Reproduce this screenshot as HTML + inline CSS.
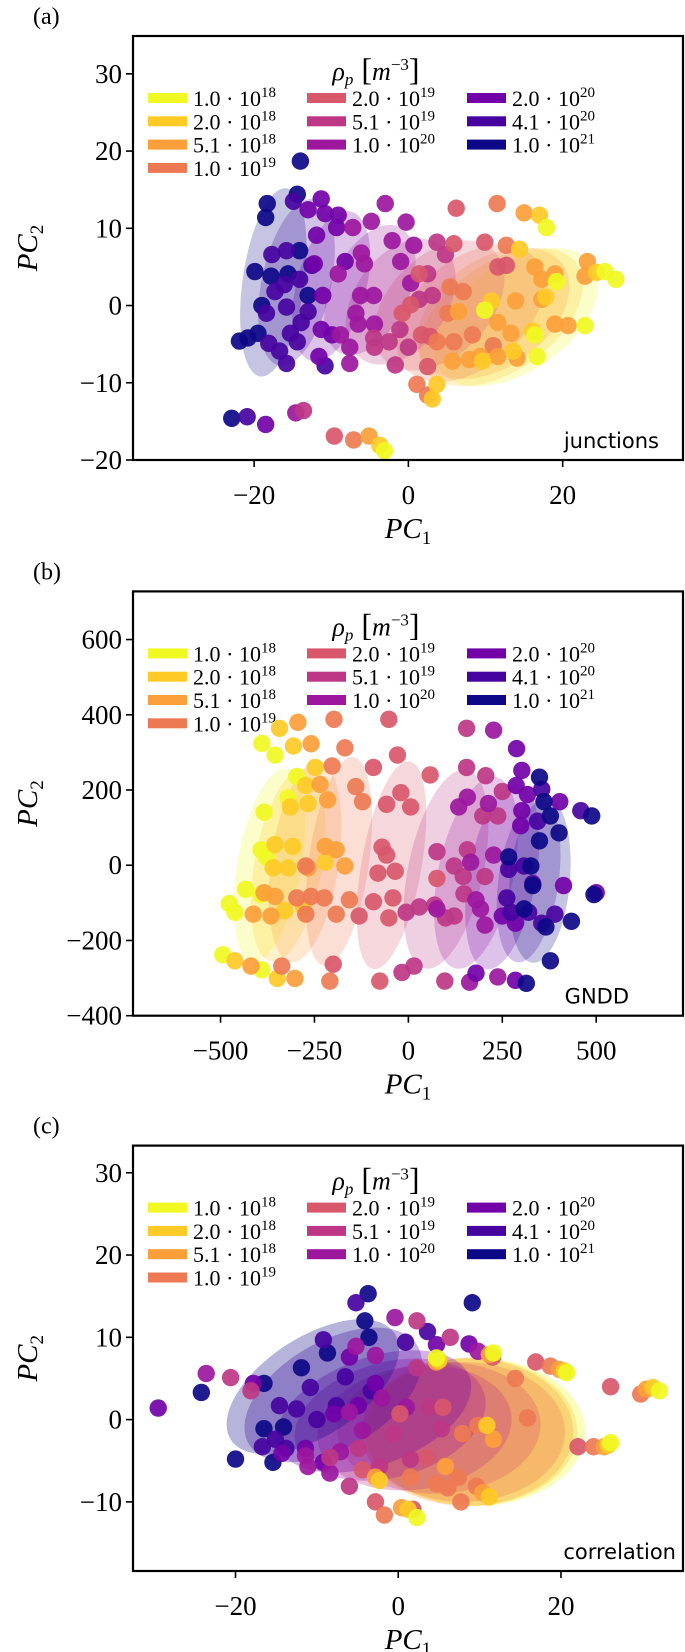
<!DOCTYPE html>
<html><head><meta charset="utf-8"><style>
html,body{margin:0;padding:0;background:#fff}
svg{display:block}
text{font-family:"Liberation Serif","DejaVu Serif",serif;fill:#000}
.ann{font-family:"DejaVu Sans","Liberation Sans",sans-serif}
</style></head><body>
<svg id="fig" width="685" height="1652" viewBox="0 0 685 1652" xmlns="http://www.w3.org/2000/svg"></svg>
<script>
// ---- shared data ----
const catLabels = [["1.0","18"],["2.0","18"],["5.1","18"],["1.0","19"],["2.0","19"],["5.1","19"],["1.0","20"],["2.0","20"],["4.1","20"],["1.0","21"]];
const catColors = ["#f0f921","#fdca26","#fb9f3a","#ed7953","#d8576b","#bd3786","#9c179e","#7201a8","#46039f","#0d0887"];

// ---- panel (a) junctions ----
const aX = [-14.0,-18.3,-18.5,-14.4,-19.9,-17.8,-21.9,-22.9,-14.1,-13.0,-15.6,-19,-20.8,-19.5,
 -14.9,-20.9,-17.7,-15.8,-17.3,-16.1,-18.4,-15.8,-18.1,-16.7,-15.8,-15.3,-13.9,-14.4,-14.1,-12.5,-10.8,-13.0,
 -11.3,-10.8,-18.5,-11.9,-12.2,-11.1,-11.3,-9.1,-9.3,-9.9,-11.6,-8.2,-13,
 -7.2,-4.8,-3.0,-6.1,-5.7,-9.1,-6.2,-6.8,-4.5,-7.6,-7.6,-8.8,-6.5,-4.4,-14.6,-2.1,-0.3,0.7,-1.0,0.3,
 -13.6,-4.4,-2.5,-1.1,0,-1.7,1.4,2.5,3.1,3.7,4.8,-4.5,
 -9.6,6.2,0.3,1.7,2.8,5.9,9.9,11.6,12.7,2.5,-0.8,1.4,
 -7.1,11.5,12.7,5.4,5.1,1.1,2.5,7.1,8.3,5.9,3.7,11.0,
 -5.1,15,16.4,17.3,19.0,22.9,23.2,13.9,11.6,13.3,19,20.7,7.9,5.7,9.3,11.6,14.1,17.3,6.5,
 17,14.4,17.8,24.4,13.6,9.6,3.7,-3.7,16.1,10.8,3.1,
 17.9,26.9,25.5,22.9,16.7,16.4,19.2,-3.1,9.9];
const aY = [18.7,13.2,11.4,14.4,4.4,3.8,-4.6,-14.6,7.1,1.3,4.1,0,-4.2,-3.6,
 13.5,-14.4,6.6,7.1,1.8,2.7,-1.0,-0.2,-4.9,-5.9,-7.5,-3.6,-2.2,-4.7,3.4,5.2,-7.8,-0.8,
 13.8,11.9,-15.4,9.1,5.4,1.3,-3.1,11.7,10.1,-3.8,-6.6,5.7,12.4,
 10.1,10.9,13.2,6.8,5.4,4.1,1.3,-1.0,1.3,-7.5,-5.4,-3.8,-2.4,-2.4,-13.9,8.4,10.8,7.8,5.7,2.9,
 -13.6,-5.4,-4.7,-3.1,-5.4,-7.7,0.8,4.1,1.3,8.2,6.6,-4.2,
 -16.9,12.6,0.1,-3.8,-4.0,8.0,8.2,5.0,5.2,-7.9,-1.0,4.1,
 -17.4,13.2,7.8,2.4,-1.0,-10.2,-11.6,1.8,-3.8,-4.7,-4.7,-5.2,
 -16.9,12,5.0,3.4,4.1,3.8,5.7,0.6,-2.2,-3.6,-2.4,-2.6,-7.0,-7.2,-6.6,-6.6,-6.8,0.8,-0.8,
 11.7,7.3,1.1,4.3,-5.9,-7.2,-10.2,-18.1,-3.3,0.6,-12.1,
 10.1,3.4,4.4,-2.6,-6.6,-3.8,3.1,-18.8,-0.6];
const aC = [9,9,9,9,9,9,9,9,9,9,9,9,9,9,
 8,8,8,8,8,8,8,8,8,8,8,8,8,8,8,8,8,8,
 7,7,7,7,7,7,7,7,7,7,7,7,7,
 6,6,6,6,6,6,6,6,6,6,6,6,6,6,6,6,6,6,6,6,
 5,5,5,5,5,5,5,5,5,5,5,5,
 4,4,4,4,4,4,4,4,4,4,4,4,
 3,3,3,3,3,3,3,3,3,3,3,3,
 2,2,2,2,2,2,2,2,2,2,2,2,2,2,2,2,2,2,2,
 1,1,1,1,1,1,1,1,1,1,1,
 0,0,0,0,0,0,0,0,0];
const aEllCx = [14,12,11,8,4,-1,-5,-10,-14.5,-17.5];
const aEllCy = [-1.5,-1.5,-1,-1,0,0.5,2,2.5,3,3];
const aEllW = [7,7,7,7,6.5,6,5,4.5,4.5,4];
const aEllH = [12,12,11,11,10,9,9,10,11,12.3];
const aEllRot = [55,55,55,50,45,35,25,15,12,8];

// ---- panel (b) GNDD ----
const bX = [-390,-355,-384,-392,-378,-433,-477,-462,-494,-390,-297,-320,-392,
 -343,-306,-248,-314,-267,-355,-308,-360,-320,-221,-329,-349,-462,-273,-279,
 -294,-259,-235,-215,-384,-355,-413,-366,-302,-419,-267,-221,-192,-169,
 -198,-169,-203,-140,-122,-224,-259,-157,-192,-337,-297,-273,-209,-273,
 -52,-29,-93,58,-20,-58,6,-70,-58,-35,-81,-41,-93,-131,-52,-200,-76,76,
 155,155,206,250,238,198,76,157,122,146,204,148,70,99,97,-17,15,29,-6,122,
 227,157,134,213,166,227,192,204,163,238,76,180,
 288,302,287,317,302,299,403,413,180,285,500,250,285,
 355,344,459,267,308,331,273,320,355,390,262,
 349,361,378,401,488,267,349,326,331,308,434,494,378,314,366];
const bY = [324,293,141,41,22,-64,-102,-125,-238,-278,236,179,-78,
 364,317,260,155,164,55,50,-7,-7,8,-121,-301,-254,212,-111,
 380,323,215,174,-73,-83,-130,-135,-301,-268,-7,50,41,-2,
 388,312,264,209,169,-87,-83,-92,-130,-268,-87,-130,-308,-2,
 388,293,260,240,193,162,155,48,27,-16,-21,-87,-97,-135,-140,-263,-308,-35,
 364,260,238,196,131,131,36,41,-2,-30,-30,-76,-106,-140,-308,-285,-268,-111,-125,-135,
 359,181,155,164,8,27,-116,-159,-311,-297,-116,-92,
 310,252,212,188,145,105,169,-54,-287,-306,-73,-135,-154,
 202,117,145,-11,-2,-49,-125,-125,-154,-130,-87,
 234,169,131,86,131,22,65,-2,-54,-116,-149,-78,-254,-314,-164];
const bC = [0,0,0,0,0,0,0,0,0,0,0,0,0,
 1,1,1,1,1,1,1,1,1,1,1,1,1,1,1,
 2,2,2,2,2,2,2,2,2,2,2,2,2,2,
 3,3,3,3,3,3,3,3,3,3,3,3,3,3,
 4,4,4,4,4,4,4,4,4,4,4,4,4,4,4,4,4,4,
 5,5,5,5,5,5,5,5,5,5,5,5,5,5,5,5,5,5,5,5,
 6,6,6,6,6,6,6,6,6,6,6,6,
 7,7,7,7,7,7,7,7,7,7,7,7,7,
 8,8,8,8,8,8,8,8,8,8,8,
 9,9,9,9,9,9,9,9,9,9,9,9,9,9,9];
const bEllCx = [-370,-320,-275,-185,-45,100,180,250,320,350];
const bEllCy = [0,0,10,10,0,-10,-20,-30,-40,-40];
const bEllW = [85,90,90,80,80,100,100,90,80,80];
const bEllH = [260,260,270,280,280,270,260,250,220,220];
const bEllRot = [10,10,8,8,10,12,12,10,8,5];

// ---- panel (c) correlation ----
const cX = [-3.7,-4.1,-3.6,9.1,-24.2,-20,-16.5,-11.9,-8.7,-16.5,-15.4,-14.1,
 -5.2,3.6,0.9,-9.2,-14.6,-12.5,-10.8,-10,-16.7,-13.8,-3.3,-7.6,-15.1,-6.5,
 -29.5,4.7,8.7,-17.8,-14.3,-6.0,-2.8,-7.9,-11.4,-4.9,-9.2,
 -23.6,-0.4,-5.2,9.8,-2.8,-11.1,-8.4,-6.0,-2.0,1.0,-7.1,-11.4,-4.4,
 -20.6,2.3,6.4,-18.1,-6.0,-8.4,2.3,3.9,-4.9,-0.6,5.3,1.5,-2.3,
 16.9,22.1,26.1,11.6,-2.8,1.8,5.5,0.2,3.6,-4.4,
 18.7,24.0,29.8,15.9,14.4,-1.7,7.7,4.7,7.4,9.6,1.5,6.1,7.9,9.8,
 19.8,25.3,30.5,11.2,10.4,4.7,11.7,0.4,5.8,-2.8,
 20.4,25.8,31.3,5.0,11.2,1.2,10.9,-2.3,
 20.7,26.1,32.1,11.7,2.3,4.7];
const cY = [15.3,12.0,10.0,14.2,3.3,-4.8,4.4,6.3,8.1,-1.1,-5.2,-0.9,
 14.2,10.7,9.4,9.7,1.7,1.3,3.9,0,-3.3,-3.5,3.5,1.7,-2.4,5.2,
 1.4,9.1,9.2,4.4,-4.1,7.6,4.4,0.7,-3.5,1.7,-5.2,
 5.6,12.4,8.9,8.3,7.8,-5.7,-6.5,0.9,2.6,1.5,-3.9,-4.4,-1.3,
 5.1,12.0,10.0,3.5,-8.1,-4.6,6.3,1.5,-3.5,-1.7,-1.1,-4.8,-5.7,
 7.0,-3.3,4.0,7.6,-10.0,-10.9,1.5,0.7,-4.6,-6.1,
 6.5,-3.3,3.1,0.2,5.0,-11.6,-10.0,-7.8,-7.0,-8.1,-7.0,-8.3,-1.7,-0.7,
 6.1,-3.3,3.7,7.9,-8.9,7.0,-2.4,-10.7,-5.7,-7.0,
 5.9,-3.1,3.9,7.2,-9.4,-10.9,-0.7,-7.4,
 5.7,-2.8,3.5,8.1,-11.9,7.5];
const cC = [9,9,9,9,9,9,9,9,9,9,9,9,
 8,8,8,8,8,8,8,8,8,8,8,8,8,8,
 7,7,7,7,7,7,7,7,7,7,7,
 6,6,6,6,6,6,6,6,6,6,6,6,6,
 5,5,5,5,5,5,5,5,5,5,5,5,5,
 4,4,4,4,4,4,4,4,4,4,
 3,3,3,3,3,3,3,3,3,3,3,3,3,3,
 2,2,2,2,2,2,2,2,2,2,
 1,1,1,1,1,1,1,1,
 0,0,0,0,0,0];
const cEllCx = [9.5,9,8.5,8,5,2,-1,-3,-8,-10.5];
const cEllCy = [-1.5,-1.5,-1.5,-1.5,-1,-1,0,1,3,4];
const cEllW = [13.5,13,13,12.5,12.5,12,12,12.5,12,12];
const cEllH = [9,9,9,8.5,8,7.5,7,6.5,6.5,6];
const cEllRot = [0,0,0,0,-3,-8,-15,-20,-30,-33];

const aXTicks = [-20,0,20], aXTickLabels = ["\u221220","0","20"];
const aYTicks = [-20,-10,0,10,20,30], aYTickLabels = ["\u221220","\u221210","0","10","20","30"];
const bXTicks = [-500,-250,0,250,500], bXTickLabels = ["\u2212500","\u2212250","0","250","500"];
const bYTicks = [-400,-200,0,200,400,600], bYTickLabels = ["\u2212400","\u2212200","0","200","400","600"];
const cXTicks = [-20,0,20], cXTickLabels = ["\u221220","0","20"];
const cYTicks = [-10,0,10,20,30], cYTickLabels = ["\u221210","0","10","20","30"];

const NS = "http://www.w3.org/2000/svg";
const fig = document.getElementById("fig");
function mk(tag, attrs, parent){
  const e = document.createElementNS(NS, tag);
  for (const k in attrs) e.setAttribute(k, attrs[k]);
  (parent||fig).appendChild(e);
  return e;
}

function panel(o){
  const g = mk("g", {});
  
  
  const L=133, R=683, T=o.top, B=o.bottom;
  const sx = v => L + (v - o.xlim[0]) / (o.xlim[1]-o.xlim[0]) * (R-L);
  const sy = v => B - (v - o.ylim[0]) / (o.ylim[1]-o.ylim[0]) * (B-T);
  const kx = (R-L)/(o.xlim[1]-o.xlim[0]), ky = (B-T)/(o.ylim[1]-o.ylim[0]);
  const clipId = "clip-"+o.name;
  const cp = mk("clipPath", {id: clipId}, g);
  mk("rect", {x:L, y:T, width:R-L, height:B-T}, cp);
  const plot = mk("g", {"clip-path":"url(#"+clipId+")"}, g);
  for (let i=0;i<o.ex.length;i++){
    const e = mk("ellipse", {cx:0, cy:0, rx:o.ew[i]*kx, ry:o.eh[i]*ky, fill:catColors[i], "fill-opacity":o.eop,
      transform:"translate("+sx(o.ex[i])+","+sy(o.ey[i])+") rotate("+o.er[i]+")"}, plot);
    
    
  }
  for (let i=0;i<o.px.length;i++){
    const c = mk("circle", {cx:sx(o.px[i]), cy:sy(o.py[i]), r:8.7, fill:catColors[o.pc[i]], "fill-opacity":0.92}, plot);
    
    
  }
  const fr = mk("rect", {x:L, y:T, width:R-L, height:B-T, fill:"none", stroke:"#000", "stroke-width":2.2}, g);
  
  
  for (let i=0;i<o.xt.length;i++){
    const x = sx(o.xt[i]);
    mk("line", {x1:x, x2:x, y1:B, y2:B+7, stroke:"#000", "stroke-width":1.6}, g);
    const t = mk("text", {x:x, y:B+44, "text-anchor":"middle", "font-size":27}, g);
    t.textContent = o.xtl[i];
    
    
  }
  for (let i=0;i<o.yt.length;i++){
    const y = sy(o.yt[i]);
    mk("line", {x1:L-7, x2:L, y1:y, y2:y, stroke:"#000", "stroke-width":1.6}, g);
    const t = mk("text", {x:L-11, y:y+9, "text-anchor":"end", "font-size":27}, g);
    t.textContent = o.ytl[i];
    
    
  }
  const xl = mk("text", {x:408, y:B+78, "text-anchor":"middle", "font-size":29, "font-style":"italic"}, g);
  xl.innerHTML = 'PC<tspan font-style="normal" font-size="19" dy="6">1</tspan>';
  
  
  const ym = (T+B)/2;
  const yl = mk("text", {x:0, y:0, "text-anchor":"middle", "font-size":29, "font-style":"italic", transform:"translate(37,"+ym+") rotate(-90)"}, g);
  yl.innerHTML = 'PC<tspan font-style="normal" font-size="19" dy="6">2</tspan>';
  
  
  const pt = mk("text", {x:33, y:T-12, "font-size":24}, g);
  pt.textContent = o.tag;
  
  
  const an = mk("text", {x:o.annX, y:B-12, "text-anchor":"end", "font-size":21, class:"ann"}, g);
  an.textContent = o.ann;
  
  
  const lg = mk("g", {}, g);
  
  
  const lt = mk("text", {x:376, y:T+44, "text-anchor":"middle", "font-size":26}, lg);
  lt.innerHTML = '<tspan font-style="italic">\u03c1</tspan><tspan font-style="italic" font-size="17" dy="5">p</tspan><tspan dy="-5" font-size="32"> [</tspan><tspan font-style="italic">m</tspan><tspan font-size="17" dy="-10">\u22123</tspan><tspan dy="10" font-size="32">]</tspan>';
  
  
  const colX = [148,307,467];
  const order = [[0,1,2,3],[4,5,6],[7,8,9]];
  for (let c=0;c<3;c++){
    for (let r=0;r<order[c].length;r++){
      const k = order[c][r];
      const yc = T + 62 + r*23.3;
      const sw = mk("rect", {x:colX[c], y:yc-5, width:39, height:10, fill:catColors[k]}, lg);
      
      
      const tx = mk("text", {x:colX[c]+45, y:yc+8, "font-size":22}, lg);
      tx.innerHTML = '<tspan textLength="68" lengthAdjust="spacing">' + catLabels[k][0] + ' \u00b7 10</tspan><tspan font-size="15" dy="-9">' + catLabels[k][1] + '</tspan>';
      
      
    }
  }
}

panel({name:"panel-a-junctions", tag:"(a)", ann:"junctions", annX:659, top:36, bottom:460,
  xlim:[-35.7,35.6], ylim:[-20,34.9], px:aX, py:aY, pc:aC, eop:0.24,
  ex:aEllCx, ey:aEllCy, ew:aEllW, eh:aEllH, er:aEllRot,
  xt:aXTicks, xtl:aXTickLabels, yt:aYTicks, ytl:aYTickLabels});
panel({name:"panel-b-gndd", tag:"(b)", ann:"GNDD", annX:629, top:591.4, bottom:1015.7,
  xlim:[-733,731], ylim:[-400,728], px:bX, py:bY, pc:bC, eop:0.24,
  ex:bEllCx, ey:bEllCy, ew:bEllW, eh:bEllH, er:bEllRot,
  xt:bXTicks, xtl:bXTickLabels, yt:bYTicks, ytl:bYTickLabels});
panel({name:"panel-c-correlation", tag:"(c)", ann:"correlation", annX:676, top:1145.6, bottom:1571,
  xlim:[-32.6,35], ylim:[-18.4,33.3], px:cX, py:cY, pc:cC, eop:0.3,
  ex:cEllCx, ey:cEllCy, ew:cEllW, eh:cEllH, er:cEllRot,
  xt:cXTicks, xtl:cXTickLabels, yt:cYTicks, ytl:cYTickLabels});
</script>
</body></html>
